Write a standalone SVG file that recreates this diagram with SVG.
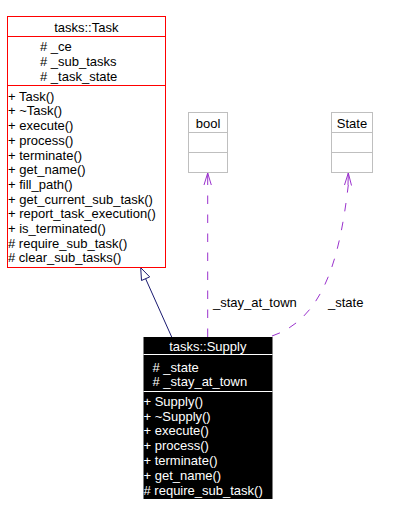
<svg xmlns="http://www.w3.org/2000/svg" width="404" height="516" viewBox="0 0 404 516">
<style>
text{font-family:"Liberation Sans",Arial,sans-serif;font-size:13px;fill:#000}
.w{fill:#fff}
.c{text-anchor:middle}
.red{fill:#fff;stroke:#ff0000;stroke-width:1}
.redl{stroke:#ff0000;stroke-width:1}
.gray{fill:#fff;stroke:#bfbfbf;stroke-width:1}
.grayl{stroke:#bfbfbf;stroke-width:1}
.use{fill:none;stroke:#9a32cd;stroke-width:1;stroke-dasharray:8.5,10.5}
.usehead{fill:none;stroke:#9a32cd;stroke-width:1}
.gen{fill:none;stroke:#191970;stroke-width:1}
</style>
<rect width="404" height="516" fill="#fff"/>
<g id="connectors">
  <path class="gen" d="M171.7,337 L145.6,278.7"/>
  <path class="gen" fill="#fff" style="fill:#fff" d="M140.7,267.7 L149.7,276.9 L141.5,280.5 Z"/>
  <path class="use" d="M207.7,337 L207.7,185"/>
  <path class="usehead" d="M204,185 L207.7,173 L211.3,185 M207.7,173 L207.7,185"/>
  <path class="use" d="M272,336 C325,318 340,255 348.3,185"/>
  <path class="usehead" d="M344.5,185 L348.3,173 L351.5,185.5 M348.3,173 L348,185"/>
  <text x="213" y="306.5">_stay_at_town</text>
  <text x="328" y="306.5">_state</text>
</g>
<g id="task">
  <rect class="red" x="7.5" y="16.5" width="158" height="251"/>
  <line class="redl" x1="7.5" y1="36.5" x2="165.5" y2="36.5"/>
  <line class="redl" x1="7.5" y1="85.5" x2="165.5" y2="85.5"/>
  <text class="c" x="86.3" y="31.5">tasks::Task</text>
  <text x="40" y="51.3"># _ce</text>
  <text x="40" y="66"># _sub_tasks</text>
  <text x="40" y="80.7"># _task_state</text>
  <text x="8" y="100.7">+ Task()</text>
  <text x="8" y="115.4">+ ~Task()</text>
  <text x="8" y="130.1">+ execute()</text>
  <text x="8" y="144.8">+ process()</text>
  <text x="8" y="159.5">+ terminate()</text>
  <text x="8" y="174.2">+ get_name()</text>
  <text x="8" y="188.9">+ fill_path()</text>
  <text x="8" y="203.6">+ get_current_sub_task()</text>
  <text x="8" y="218.3">+ report_task_execution()</text>
  <text x="8" y="233">+ is_terminated()</text>
  <text x="8" y="247.7"># require_sub_task()</text>
  <text x="8" y="262.4"># clear_sub_tasks()</text>
</g>
<g id="bool">
  <rect class="gray" x="188.5" y="112.5" width="39" height="60"/>
  <line class="grayl" x1="188.5" y1="132.5" x2="227.5" y2="132.5"/>
  <line class="grayl" x1="188.5" y1="152.5" x2="227.5" y2="152.5"/>
  <text class="c" x="208" y="128.3">bool</text>
</g>
<g id="state">
  <rect class="gray" x="331.5" y="112.5" width="41" height="60"/>
  <line class="grayl" x1="331.5" y1="132.5" x2="372.5" y2="132.5"/>
  <line class="grayl" x1="331.5" y1="152.5" x2="372.5" y2="152.5"/>
  <text class="c" x="352" y="128.3">State</text>
</g>
<g id="supply">
  <rect x="143.5" y="337" width="129" height="162" fill="#000"/>
  <line x1="143.5" y1="354.5" x2="272.5" y2="354.5" stroke="#fff"/>
  <line x1="143.5" y1="391.5" x2="272.5" y2="391.5" stroke="#fff"/>
  <text class="c w" x="207.8" y="351.3">tasks::Supply</text>
  <text class="w" x="152.5" y="371.7"># _state</text>
  <text class="w" x="152.5" y="386.3"># _stay_at_town</text>
  <text class="w" x="143.5" y="405.7">+ Supply()</text>
  <text class="w" x="143.5" y="420.5">+ ~Supply()</text>
  <text class="w" x="143.5" y="435.4">+ execute()</text>
  <text class="w" x="143.5" y="450.2">+ process()</text>
  <text class="w" x="143.5" y="465">+ terminate()</text>
  <text class="w" x="143.5" y="479.9">+ get_name()</text>
  <text class="w" x="143.5" y="494.7"># require_sub_task()</text>
</g>
</svg>
